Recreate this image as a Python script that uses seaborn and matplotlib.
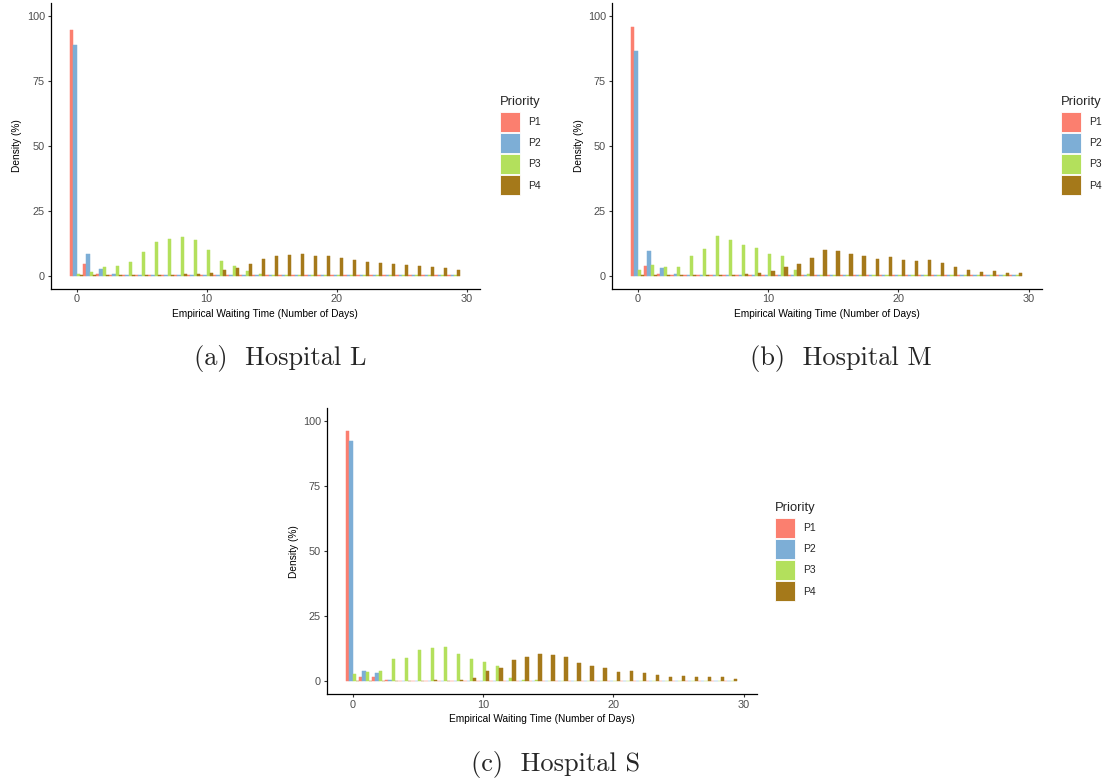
import numpy as np
import pandas as pd
import matplotlib
matplotlib.use("Agg")
import matplotlib.pyplot as plt
from matplotlib.patches import Patch
import seaborn as sns

# ---------------- data (density %, days 0..29) ----------------
days = list(range(30))
priorities = ["P1", "P2", "P3", "P4"]
colors = ["#FB7F6F", "#7DAED6", "#B3E05C", "#A5791A"]

L_P1 = [94.5, 4.5, 0.6] + [0.2] * 27
L_P2 = [88.7, 8.3, 2.6, 0.6] + [0.2] * 26
L_P3 = [0.6, 1.4, 3.5, 3.7, 5.3, 9.1, 12.9, 14.1, 14.9, 13.7, 9.9, 5.6, 3.7, 1.8, 0.6] + [0.2] * 15
L_P4 = [0.2] * 8 + [0.6, 0.6, 1.0, 2.2, 2.9, 4.5, 6.4, 7.4, 7.8, 8.2, 7.4, 7.4, 6.7, 5.9,
                    5.1, 4.7, 4.4, 4.0, 3.6, 3.2, 2.8, 2.1]

M_P1 = [95.8, 3.8, 0.6] + [0.2] * 27
M_P2 = [86.4, 9.5, 2.9, 0.6] + [0.2] * 26
M_P3 = [2.2, 4.1, 3.5, 3.5, 7.6, 10.4, 15.3, 13.8, 11.8, 10.8, 8.3, 7.6, 2.2, 0.6] + [0.2] * 16
M_P4 = [0.2] * 8 + [0.8, 1.0, 1.8, 3.5, 4.5, 6.8, 9.8, 9.4, 8.2, 7.4, 6.3, 7.1, 5.9, 5.5,
                    5.9, 4.7, 3.2, 2.1, 1.3, 1.7, 0.9, 0.9]

S_P1 = [96.2, 1.7, 1.7, 0.5] + [0.2] * 26
S_P2 = [92.3, 4.0, 3.2, 0.5] + [0.2] * 26
S_P3 = [2.8, 3.6, 4.0, 8.6, 9.0, 12.0, 12.8, 13.2, 10.5, 8.6, 7.4, 5.9, 1.3, 0.5, 0.5] + [0.2] * 15
S_P4 = [0.2] * 6 + [0.5, 0.2, 0.5, 1.3, 4.0, 5.1, 8.2, 9.3, 10.5, 10.1, 9.3, 7.0, 5.9, 5.1,
                    3.6, 4.0, 3.2, 2.4, 1.7, 2.0, 1.7, 1.7, 1.7, 0.9]

panels = [
    ("(a)  Hospital L", [L_P1, L_P2, L_P3, L_P4]),
    ("(b)  Hospital M", [M_P1, M_P2, M_P3, M_P4]),
    ("(c)  Hospital S", [S_P1, S_P2, S_P3, S_P4]),
]

x_ticks = [0, 10, 20, 30]
y_ticks = [0, 25, 50, 75, 100]
x_label = "Empirical Waiting Time (Number of Days)"
y_label = "Density (%)"
legend_title = "Priority"

# ---------------- styling ----------------
sns.set_style("ticks")
plt.rcParams["font.family"] = ["Liberation Sans", "DejaVu Sans"]

W, H = 1111, 782
fig = plt.figure(figsize=(W / 100, H / 100), dpi=100)

# pixel boxes: left, top, right, bottom
boxes = [(50.5, 2.7, 480, 288.7), (611.6, 2.7, 1041.7, 288.7), (326.6, 408.3, 756.6, 694.3)]
legend_pos = [(500, 96), (1061, 96), (775, 502)]
caption_pos = [(280, 358), (841, 358), (556, 764)]

pal = dict(zip(priorities, colors))

for (caption, series), (l, t, r, b), (lx, ly), (cx, cy) in zip(panels, boxes, legend_pos, caption_pos):
    ax = fig.add_axes([l / W, 1 - b / H, (r - l) / W, (b - t) / H])
    df = pd.DataFrame({
        "day": np.tile(days, 4),
        "density": np.concatenate(series),
        "Priority": np.repeat(priorities, len(days)),
    })
    sns.barplot(data=df, x="day", y="density", hue="Priority", hue_order=priorities,
                palette=pal, width=1, gap=0, native_scale=True, saturation=1,
                errorbar=None, legend=False, linewidth=0, ax=ax)
    for p in ax.patches:
        p.set_edgecolor(p.get_facecolor())
        p.set_linewidth(0.35)
    ax.set_xlim(-2, 31)
    ax.set_ylim(-5, 105)
    ax.set_xticks(x_ticks)
    ax.set_yticks(y_ticks)
    ax.set_xticklabels([str(v) for v in x_ticks])
    ax.set_yticklabels([str(v) for v in y_ticks])
    sns.despine(ax=ax)
    for s in ["left", "bottom"]:
        ax.spines[s].set_linewidth(0.9)
        ax.spines[s].set_color("black")
    ax.tick_params(axis="both", length=2.5, width=0.8, color="#333333",
                   labelcolor="#4D4D4D", labelsize=7.8, pad=1.5)
    ax.set_xlabel(x_label, fontsize=7.3, color="black")
    ax.set_ylabel(y_label, fontsize=7.3, color="black")
    ax.xaxis.set_label_coords(0.5, -(308.5 - 288.7) / (b - t))
    ax.yaxis.set_label_coords(-28.0 / (r - l), 0.5)

    handles = [Patch(facecolor=c, edgecolor="white", linewidth=0.6, label=p)
               for p, c in zip(priorities, colors)]
    leg = ax.legend(handles=handles, title=legend_title, loc="upper left",
                    bbox_to_anchor=(lx / W, 1 - ly / H), bbox_transform=fig.transFigure,
                    frameon=False, fontsize=7.5, title_fontsize=9.4,
                    handlelength=1.92, handleheight=2.58, handletextpad=0.75,
                    labelspacing=0.12, borderpad=0, borderaxespad=0, alignment="left")
    leg._legend_box.sep = 2.6

    fig.text(cx / W, 1 - cy / H, caption, ha="center", va="center",
             fontsize=19, family="cmr10")

fig.savefig("out.png", dpi=100)
